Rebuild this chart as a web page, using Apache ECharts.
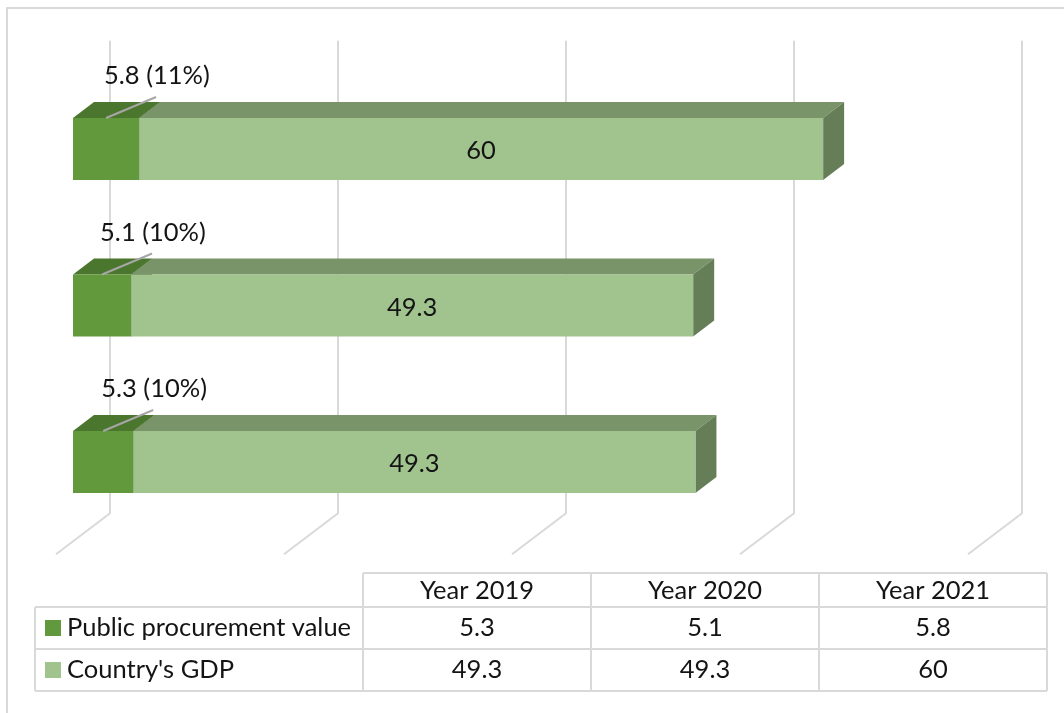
<!DOCTYPE html>
<html>
<head>
<meta charset="utf-8">
<script src="https://cdn.jsdelivr.net/npm/echarts@6/dist/echarts.min.js"></script>
<style>
  html, body { margin: 0; padding: 0; background: #fff; }
  #chart { width: 1064px; height: 713px; }
</style>
</head>
<body>
<div id="chart"></div>
<script>
// data
const years = ['Year 2019', 'Year 2020', 'Year 2021'];
const procurement = [5.3, 5.1, 5.8];
const gdp = [49.3, 49.3, 60];
const shareLabels = ['10%', '10%', '11%'];
const seriesNames = ['Public procurement value', "Country's GDP"];
const ticks = [0, 20, 40, 60, 80];

const FONT = 'Lato, "Open Sans", sans-serif';
const FONT_SIZE = '25.5px ';
const TEXT = '#141414';
const LINE = '#d9d9d9';
// bar depth and back-wall offset (pseudo 3d)
const DX = 21, DY = 16;
const WALL_DX = 37, WALL_DY = -28;

const palettes = [
  { front: '#62993c', top: '#4a772d', side: '#3f6627' },
  { front: '#a1c48f', top: '#7a946a', side: '#667e58' }
];

function barItem(pal, idx) {
  return function (params, api) {
    const start = api.value(0), end = api.value(1), cat = api.value(2);
    const p0 = api.coord([start, cat]);
    const p1 = api.coord([end, cat]);
    const h = api.size([0, 1])[1] * 0.396;
    const x0 = p0[0], x1 = p1[0];
    const yTop = p0[1] - h / 2, yBot = p0[1] + h / 2;
    const children = [
      {
        type: 'polygon',
        shape: { points: [[x0, yTop], [x0 + DX, yTop - DY], [x1 + DX, yTop - DY], [x1, yTop]] },
        style: { fill: pal.top }
      },
      {
        type: 'polygon',
        shape: { points: [[x1, yTop], [x1 + DX, yTop - DY], [x1 + DX, yBot - DY], [x1, yBot]] },
        style: { fill: pal.side }
      },
      {
        type: 'rect',
        shape: { x: x0, y: yTop, width: x1 - x0, height: yBot - yTop },
        style: { fill: pal.front }
      }
    ];
    const i = params.dataIndex;
    if (idx === 0) {
      const xm = (x0 + x1) / 2;
      children.push({
        type: 'line',
        shape: { x1: xm, y1: yTop, x2: xm + 50, y2: yTop - 21 },
        style: { stroke: '#a6a6a6', lineWidth: 2 }
      });
      children.push({
        type: 'text',
        style: {
          text: procurement[i] + ' (' + shareLabels[i] + ')',
          x: xm - 2, y: yTop - 42,
          align: 'left', verticalAlign: 'middle',
          font: FONT_SIZE + FONT, fill: TEXT
        }
      });
    } else {
      children.push({
        type: 'text',
        style: {
          text: String(gdp[i]),
          x: (x0 + x1) / 2, y: p0[1] + 2,
          align: 'center', verticalAlign: 'middle',
          font: FONT_SIZE + FONT, fill: TEXT
        }
      });
    }
    return { type: 'group', children: children };
  };
}

function gridItem(params, api) {
  const cs = params.coordSys;
  const x = api.coord([api.value(0), 0])[0] + WALL_DX;
  const bottom = cs.y + cs.height;
  return {
    type: 'polyline',
    shape: { points: [[x, cs.y - 30], [x, bottom - 27], [x - 54, bottom + 14]] },
    style: { stroke: LINE, lineWidth: 2, fill: 'none' }
  };
}

// data table under the plot
const colX = [35, 363, 591, 819, 1047];
const rowY = [573, 607, 649, 691];
function tableGraphics() {
  const els = [];
  const hline = (y, xa, xb) => els.push({ type: 'line', shape: { x1: xa, y1: y, x2: xb, y2: y }, style: { stroke: LINE, lineWidth: 2 } });
  const vline = (x, ya, yb) => els.push({ type: 'line', shape: { x1: x, y1: ya, x2: x, y2: yb }, style: { stroke: LINE, lineWidth: 2 } });
  hline(rowY[0], colX[1], colX[4]);
  for (let r = 1; r < rowY.length; r++) hline(rowY[r], colX[0], colX[4]);
  vline(colX[0], rowY[1], rowY[3]);
  for (let c = 1; c < colX.length; c++) vline(colX[c], rowY[0], rowY[3]);
  const txt = (s, x, y, align) => els.push({
    type: 'text',
    style: { text: s, x: x, y: y, align: align, verticalAlign: 'middle', font: FONT_SIZE + FONT, fill: TEXT }
  });
  years.forEach((yname, c) => txt(yname, (colX[c + 1] + colX[c + 2]) / 2, (rowY[0] + rowY[1]) / 2 + 1, 'center'));
  const rows = [procurement, gdp];
  rows.forEach((vals, r) => {
    const yc = (rowY[r + 1] + rowY[r + 2]) / 2;
    els.push({ type: 'rect', shape: { x: 45, y: yc - 8, width: 16, height: 16 }, style: { fill: palettes[r].front } });
    txt(seriesNames[r], 67, yc, 'left');
    vals.forEach((v, c) => txt(String(v), (colX[c + 1] + colX[c + 2]) / 2, yc, 'center'));
  });
  els.push({
    type: 'rect',
    shape: { x: 7, y: 8, width: 1100, height: 800 },
    style: { fill: 'none', stroke: LINE, lineWidth: 2 }
  });
  return els;
}

const chart = echarts.init(document.getElementById('chart'));
chart.setOption({
  backgroundColor: '#fff',
  animation: false,
  grid: { left: 73, width: 912, top: 70.75, height: 469.5 },
  xAxis: { type: 'value', min: 0, max: 80, interval: 20, show: false },
  yAxis: { type: 'category', data: years, show: false },
  graphic: { elements: tableGraphics() },
  series: [
    {
      type: 'custom',
      name: 'grid',
      clip: false,
      silent: true,
      z: 1,
      renderItem: gridItem,
      encode: { x: 0 },
      data: ticks.map(v => [v])
    },
    {
      type: 'custom',
      name: seriesNames[0],
      clip: false,
      z: 2,
      renderItem: barItem(palettes[0], 0),
      encode: { x: [0, 1], y: 2 },
      data: procurement.map((v, i) => [0, v, i])
    },
    {
      type: 'custom',
      name: seriesNames[1],
      clip: false,
      z: 3,
      renderItem: barItem(palettes[1], 1),
      encode: { x: [0, 1], y: 2 },
      data: gdp.map((v, i) => [procurement[i], procurement[i] + v, i])
    }
  ]
});
</script>
</body>
</html>
